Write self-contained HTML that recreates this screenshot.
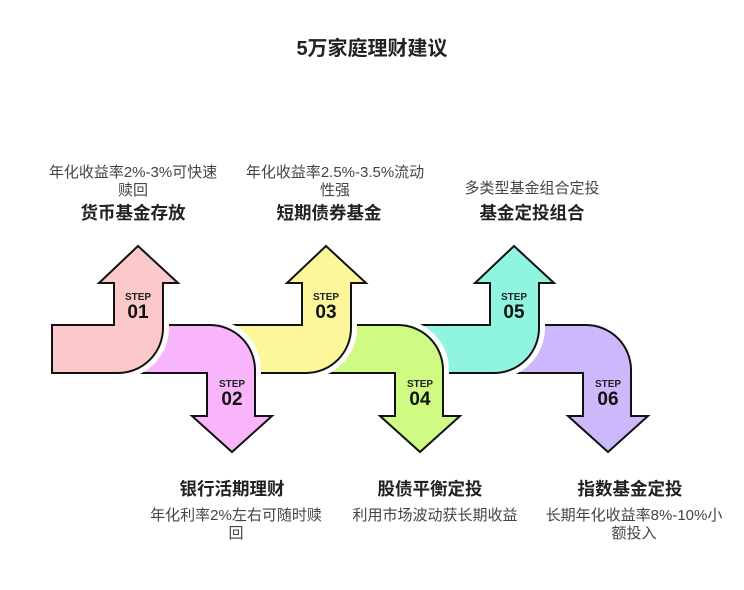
<!DOCTYPE html>
<html><head><meta charset="utf-8"><style>
html,body{margin:0;padding:0;background:#fff;}
svg text{font-family:"Liberation Sans","Noto Sans CJK SC",sans-serif;}
.n{font-size:15px;fill:#444;text-anchor:middle;}
.b{font-size:17.5px;font-weight:bold;fill:#222;text-anchor:middle;}
.s{font-size:10px;font-weight:bold;fill:#222;text-anchor:middle;}
.d{font-size:19px;font-weight:bold;fill:#111;text-anchor:middle;}
</style></head><body>
<svg width="744" height="585" viewBox="0 0 744 585" xmlns="http://www.w3.org/2000/svg">
<defs>
<path id="up" d="M0,325 H114 V283 H99 L138,246 L178,283 H163 V328 A45 45 0 0 1 118,373 H0 Z"/>
<path id="dn" d="M120,325 H210 A45 45 0 0 1 255,370 V416 H272 L232,452 L192,416 H207 V373 H120 Z"/>
</defs>
<text x="372" y="55" text-anchor="middle" style="font-size:20px;font-weight:bold;fill:#222">5万家庭理财建议</text>

<g transform="translate(376,0)"><use href="#dn" fill="none" stroke="#fff" stroke-width="12"/><use href="#dn" fill="#cdb8fb" stroke="#111" stroke-width="2"/></g>
<g transform="translate(376,0)"><use href="#up" fill="none" stroke="#fff" stroke-width="12"/><use href="#up" fill="#8ff5e0" stroke="#111" stroke-width="2"/></g>
<g transform="translate(188,0)"><use href="#dn" fill="none" stroke="#fff" stroke-width="12"/><use href="#dn" fill="#cffb84" stroke="#111" stroke-width="2"/></g>
<g transform="translate(188,0)"><use href="#up" fill="none" stroke="#fff" stroke-width="12"/><use href="#up" fill="#fbf79a" stroke="#111" stroke-width="2"/></g>
<g><use href="#dn" fill="none" stroke="#fff" stroke-width="12"/><use href="#dn" fill="#f9b5fb" stroke="#111" stroke-width="2"/></g>
<rect x="0" y="240" width="52" height="140" fill="#fff"/>
<path d="M52,325 H114 V283 H99 L138,246 L178,283 H163 V328 A45 45 0 0 1 118,373 H52 Z" fill="none" stroke="#fff" stroke-width="12"/>
<path d="M52,325 H114 V283 H99 L138,246 L178,283 H163 V328 A45 45 0 0 1 118,373 H52 Z" fill="#fbc9c9" stroke="#111" stroke-width="2"/>

<text class="s" x="138" y="300">STEP</text><text class="d" x="138" y="318">01</text>
<text class="s" x="232" y="387">STEP</text><text class="d" x="232" y="405">02</text>
<text class="s" x="326" y="300">STEP</text><text class="d" x="326" y="318">03</text>
<text class="s" x="420" y="387">STEP</text><text class="d" x="420" y="405">04</text>
<text class="s" x="514" y="300">STEP</text><text class="d" x="514" y="318">05</text>
<text class="s" x="608" y="387">STEP</text><text class="d" x="608" y="405">06</text>

<text class="n" x="133" y="177">年化收益率2%-3%可快速</text>
<text class="n" x="133" y="195">赎回</text>
<text class="b" x="133" y="219">货币基金存放</text>
<text class="n" x="335" y="177">年化收益率2.5%-3.5%流动</text>
<text class="n" x="335" y="195">性强</text>
<text class="b" x="329" y="219">短期债券基金</text>
<text class="n" x="532" y="193">多类型基金组合定投</text>
<text class="b" x="532" y="219">基金定投组合</text>

<text class="b" x="232" y="495">银行活期理财</text>
<text class="n" x="236" y="520">年化利率2%左右可随时赎</text>
<text class="n" x="236" y="538">回</text>
<text class="b" x="430" y="495">股债平衡定投</text>
<text class="n" x="435" y="520">利用市场波动获长期收益</text>
<text class="b" x="630" y="495">指数基金定投</text>
<text class="n" x="634" y="520">长期年化收益率8%-10%小</text>
<text class="n" x="634" y="538">额投入</text>
</svg>
</body></html>
